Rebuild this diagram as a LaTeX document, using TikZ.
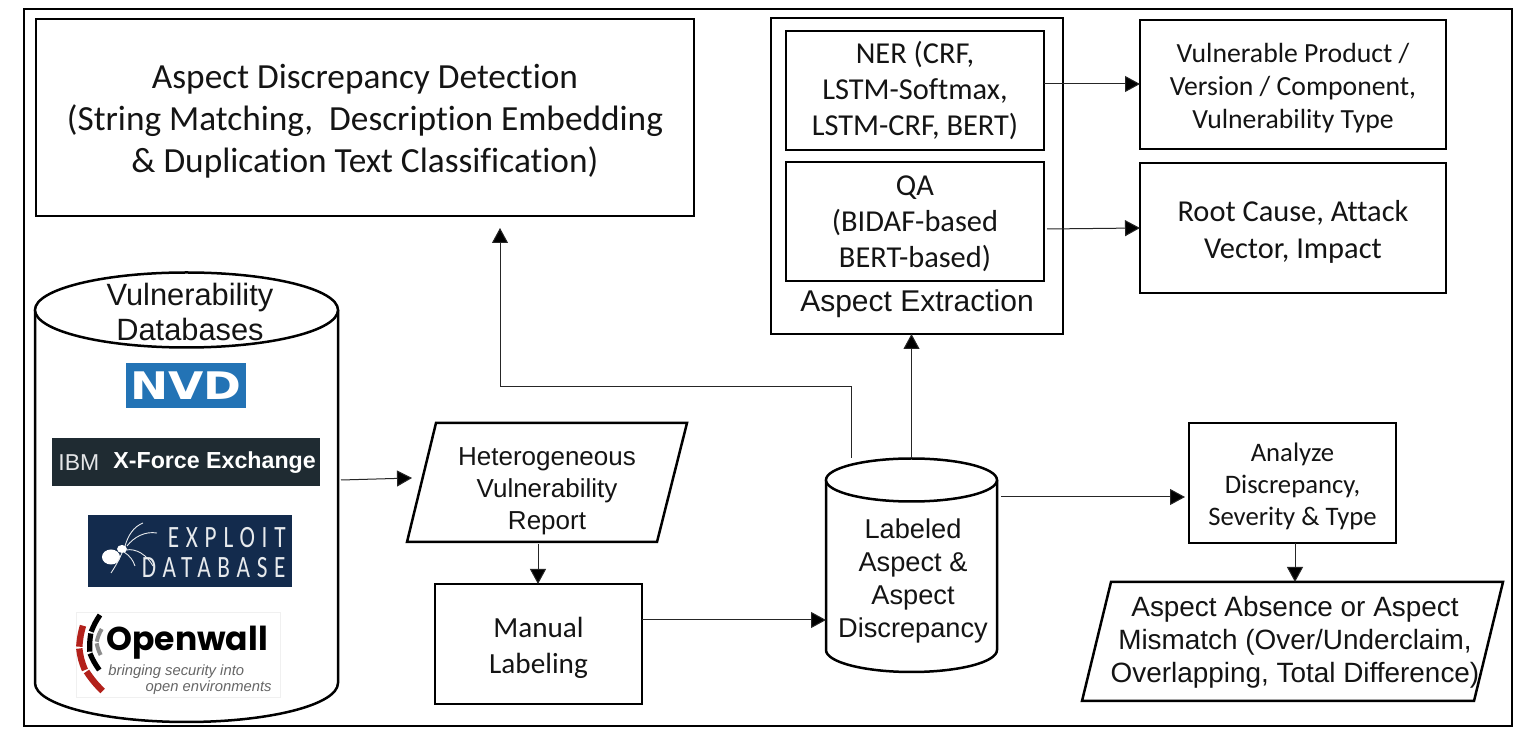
\documentclass[tikz,border=0pt]{standalone}
\usepackage{fontspec}
\usepackage{graphicx}
\setmainfont[Ligatures=NoCommon]{Carlito}
\newfontfamily\arialf{Liberation Sans}
\newfontfamily\dejav{DejaVu Sans}
\newfontfamily\popp{Poppins}
\usetikzlibrary{arrows.meta,calc}
\definecolor{inkc}{HTML}{141414}
\definecolor{nvdblue}{HTML}{2373B5}
\definecolor{ibmdark}{HTML}{1F2B32}
\definecolor{edbblue}{HTML}{132B4D}
\definecolor{owred}{HTML}{B3211B}
\newcommand{\fs}[2]{\fontsize{#1}{#2}\selectfont}
\newcommand{\dn}[1]{\rule{0pt}{#1pt}}
\tikzset{
  x=0.5pt,y=-0.5pt,
  wh/.style 2 args={minimum width=#1*0.5pt,minimum height=#2*0.5pt},
  edge/.style={line width=1.25pt,draw=black},
  boxn/.style={edge,rectangle,inner sep=0pt,outer sep=0pt,text=inkc,align=center},
  ghost/.style={rectangle,inner sep=0pt,outer sep=0pt,text=inkc,align=center},
  logobox/.style={rectangle,inner sep=0pt,outer sep=0pt},
  arr/.style={line width=0.5pt,draw=black!85,-{Triangle[length=7.5pt,width=8pt,fill=black]}},
  logoline/.style={line cap=butt,line width=#1},
  leg/.style={draw=white!90!edbblue,line width=0.45pt},
}
\begin{document}
\begin{tikzpicture}
\useasboundingbox (0,0) rectangle (1527,742);
\fill[white] (0,0) rectangle (1527,742);
\node[boxn,line width=1.3pt,wh={1488}{717}] (frame) at (768,367.5) {};

% top left box
\node[boxn,wh={658}{197},font=\fs{17.65}{21}] (detect) at (365,117.5) {\dn{16}Aspect Discrepancy Detection\\(String Matching,\ \ Description Embedding\\\&\ Duplication Text Classification)};

% aspect extraction
\node[boxn,wh={292}{316}] (extract) at (917,176) {};
\node[boxn,wh={258}{119},font=\fs{15.2}{18}] (ner) at (915,90.5) {NER (CRF,\\ LSTM-Softmax,\\LSTM-CRF, BERT)};
\node[boxn,wh={258}{119},font=\fs{15.2}{18}] (qa) at (915,221.5) {\dn{11.8}QA\\(BIDAF-based\\BERT-based)};
\node[ghost,font=\arialf\fs{15}{18}] (extractlabel) at (917,304) {Aspect Extraction};

% output boxes
\node[boxn,wh={306}{129},font=\fs{13.85}{16.5}] (vuln) at (1293,84.5) {\dn{13.1}Vulnerable Product /\\Version / Component,\\Vulnerability Type};
\node[boxn,wh={306}{130},font=\fs{15.2}{18.5}] (root) at (1293,228) {\dn{14.1}Root Cause, Attack\\Vector, Impact};

% vulnerability database cylinder
\draw[edge,fill=white] (35,310) -- (35,683) arc[start angle=180,end angle=0,x radius=151.5,y radius=39] -- (338,310);
\draw[edge,fill=white] (186.5,310) ellipse[x radius=151.5,y radius=37.5];
\node[ghost,wh={303}{450}] (db) at (186.5,497) {};
\node[ghost,font=\arialf\fs{15.4}{17.5}] (dbtitle) at (190,312) {Vulnerability\\Databases};

% logos
\node[logobox,fill=nvdblue,wh={120}{45},text=white,font=\dejav\bfseries\fs{19}{19}] (nvd) at (186,385.5) {\scalebox{1.2}[1]{NVD}};
\node[logobox,fill=ibmdark,wh={268}{48}] (ibm) at (186,462) {};
\node[anchor=west,inner sep=0pt,text=white!88!ibmdark,font=\arialf\fs{11.5}{12}] (ibmtext) at (58,463) {IBM};
\node[anchor=west,inner sep=0pt,text=white,font=\arialf\bfseries\fs{11.6}{12}] (xforce) at (113,463) {X-Force Exchange};
\node[logobox,fill=edbblue,wh={204}{72}] (edb) at (190,551) {};
\node[anchor=east,inner sep=0pt,text=white!90!edbblue,font=\fs{15.5}{16}] (exploit) at (286,538) {\scalebox{0.75}[1]{\addfontfeature{LetterSpace=29}EXPLOIT}};
\node[anchor=east,inner sep=0pt,text=white!90!edbblue,font=\fs{15.5}{16}] (database) at (286,568) {\scalebox{0.75}[1]{\addfontfeature{LetterSpace=29}DATABASE}};
\fill[white] (111,557) ellipse[x radius=9,y radius=7.5];
\fill[white] (122,549) ellipse[x radius=5,y radius=4];
\draw[leg] (125,546) .. controls (128,536) and (133,527) .. (143,523);
\draw[leg] (127,546) .. controls (134,537) and (145,531) .. (157,533);
\draw[leg] (126,550) .. controls (136,548) and (147,555) .. (153,566);
\draw[leg] (122,553) .. controls (119,560) and (115,567) .. (111,573);
\draw[leg] (124,552) .. controls (130,556) and (133,560) .. (135,566);
\node[logobox,draw=black!6,line width=0.4pt,fill=white,wh={204}{85}] (owall) at (178,654.5) {};
\draw[owred,logoline=3.2pt] (83,625.7) to[bend right=6] (79.3,646.7);
\draw[owred,logoline=3.2pt] (79.3,648.5) to[bend right=8] (85,670);
\draw[owred,logoline=3.2pt] (86.5,671.5) to[bend right=6] (102.7,691);
\draw[black,logoline=2.6pt] (100,615) to[bend right=6] (91.2,631.7);
\draw[black,logoline=2.6pt] (90.8,633.5) to[bend right=6] (89.8,651.7);
\draw[black,logoline=2.6pt] (90,653.5) to[bend right=6] (99.3,670);
\draw[black!45,logoline=2pt] (101.7,629) to[bend right=8] (96.7,641.7);
\draw[black!45,logoline=2pt] (96.7,643.3) to[bend right=8] (100.7,655);
\node[anchor=west,inner sep=0pt,text=black,font=\popp\bfseries\fs{16.5}{17}] (owtext) at (106,643) {Openwall};
\node[anchor=west,inner sep=0pt,text=black!60,font=\arialf\itshape\fs{7.4}{8}] (owtag1) at (108,672) {bringing security into};
\node[anchor=east,inner sep=0pt,text=black!60,font=\arialf\itshape\fs{7.4}{8}] (owtag2) at (272,688) {open environments};

% report parallelogram
\draw[edge,fill=white] (436,423) -- (687,423) -- (657,542) -- (407,542) -- cycle;
\node[ghost,wh={280}{119},font=\arialf\fs{13}{16}] (report) at (547,491) {Heterogeneous\\Vulnerability\\Report};

% manual
\node[boxn,wh={207}{120},font=\fs{14.6}{18}] (manual) at (538.5,644) {\dn{13.7}Manual\\Labeling};

% labeled cylinder
\draw[edge,fill=white] (826,480) -- (826,650) arc[start angle=180,end angle=0,x radius=85.5,y radius=22] -- (997,480);
\draw[edge,fill=white] (911.5,480) ellipse[x radius=85.5,y radius=21.5];
\node[ghost,wh={171}{214}] (labeled) at (911.5,565) {};
\node[ghost,font=\arialf\fs{13.6}{16.5}] (labeledtext) at (913,581) {Labeled\\Aspect \&\\Aspect\\Discrepancy};

% analyze
\node[boxn,wh={207}{120},font=\fs{13.35}{16}] (analyze) at (1292.5,483) {\dn{12.7}Analyze\\Discrepancy,\\Severity \& Type};

% absence parallelogram
\draw[edge,fill=white] (1111,582) -- (1503,582) -- (1474,701) -- (1082,701) -- cycle;
\node[ghost,wh={421}{119},font=\arialf\fs{13.95}{16.5}] (absence) at (1295,642) {Aspect Absence or Aspect\\Mismatch (Over/Underclaim,\\Overlapping, Total Difference)};

% connectors
\coordinate (elbow) at (500,387);
\draw[arr] ([shift={(3,-17)}]db.east) -- ([shift={(5,-13)}]report.west);
\draw[arr] ([shift={(-9,-6.5)}]report.south) -- ([shift={(-0.5,0)}]manual.north);
\draw[arr] ([shift={(0,-24)}]manual.east) -- ([shift={(0,55)}]labeled.west);
\draw[arr] ([shift={(-60.5,0)}]labeled.north) |- (elbow) -- ([shift={(135,12)}]detect.south);
\draw[arr] (labeled.north) -- (labeled.north |- extract.south);
\draw[arr] ([shift={(4,-68)}]labeled.east) -- ([shift={(-4,14)}]analyze.west);
\draw[arr] ([shift={(2.5,0)}]analyze.south) -- ([shift={(0,-0.5)}]absence.north);
\draw[arr] ([shift={(0,-6.5)}]ner.east) -- ([shift={(0,-0.5)}]vuln.west);
\draw[arr] ([shift={(3,7.5)}]qa.east) -- (root.west);
\end{tikzpicture}
\end{document}
